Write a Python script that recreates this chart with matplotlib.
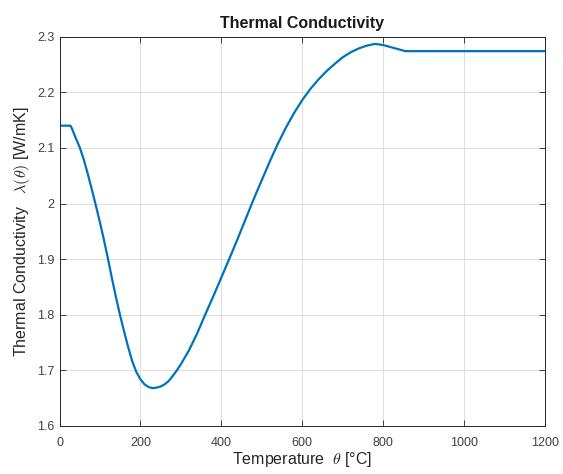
import matplotlib
matplotlib.use('Agg')
import matplotlib.pyplot as plt
from matplotlib.ticker import FormatStrFormatter

# temperature [°C] and conductivity [W/mK]
temperature = [0, 20, 27, 30, 40, 50, 60, 70, 80, 90, 100, 110, 120, 130, 140,
               150, 160, 170, 180, 190, 200, 210, 220, 230, 240, 250, 260, 270,
               280, 290, 300, 320, 340, 360, 380, 400, 420, 440, 460, 480, 500,
               520, 540, 560, 580, 600, 620, 640, 660, 680, 700, 720, 740, 760,
               780, 800, 820, 840, 855, 1200]
conductivity = [2.140, 2.140, 2.140, 2.136, 2.118, 2.101, 2.079, 2.053, 2.025,
                1.996, 1.966, 1.934, 1.900, 1.864, 1.830, 1.798, 1.769, 1.741,
                1.716, 1.697, 1.684, 1.675, 1.670, 1.668, 1.669, 1.671, 1.675,
                1.681, 1.690, 1.700, 1.711, 1.736, 1.766, 1.800, 1.833, 1.867,
                1.901, 1.936, 1.972, 2.008, 2.042, 2.076, 2.108, 2.137, 2.163,
                2.186, 2.206, 2.223, 2.238, 2.251, 2.263, 2.272, 2.279, 2.284,
                2.287, 2.285, 2.281, 2.277, 2.274, 2.274]

x_ticks = [0, 200, 400, 600, 800, 1000, 1200]
y_ticks = [1.6, 1.7, 1.8, 1.9, 2.0, 2.1, 2.2, 2.3]

plt.rcParams['font.family'] = ['Liberation Sans', 'DejaVu Sans']
plt.rcParams['mathtext.fontset'] = 'cm'

text_col = '#262626'

fig = plt.figure(figsize=(5.63, 4.74), dpi=100)
ax = fig.add_axes([0.1057, 0.1013, 0.8623, 0.8213])

ax.plot(temperature, conductivity, color='#0072BD', linewidth=1.6)

ax.set_xlim(0, 1200)
ax.set_ylim(1.6, 2.3)
ax.set_xticks(x_ticks)
ax.set_yticks(y_ticks)
ax.yaxis.set_major_formatter(FormatStrFormatter('%g'))

ax.grid(True, color='#dcdcdc', linewidth=0.7)
ax.set_axisbelow(True)
ax.tick_params(direction='in', top=True, right=True, length=4, width=0.6,
               colors=text_col, labelsize=9, labelcolor='#404040')
ax.tick_params(axis='x', pad=8)
for s in ax.spines.values():
    s.set_color(text_col)
    s.set_linewidth(0.7)

ax.set_title('Thermal Conductivity', fontsize=11.5, fontweight='bold', color='#1a1a1a', pad=6)
ax.set_xlabel(r'Temperature  $\theta$ [°C]', fontsize=11.5, color=text_col, labelpad=1)
ax.set_ylabel(r'Thermal Conductivity   $\lambda(\theta)$ [W/mK]', fontsize=11.5, color=text_col, labelpad=4)

fig.savefig('out.png', dpi=100)
